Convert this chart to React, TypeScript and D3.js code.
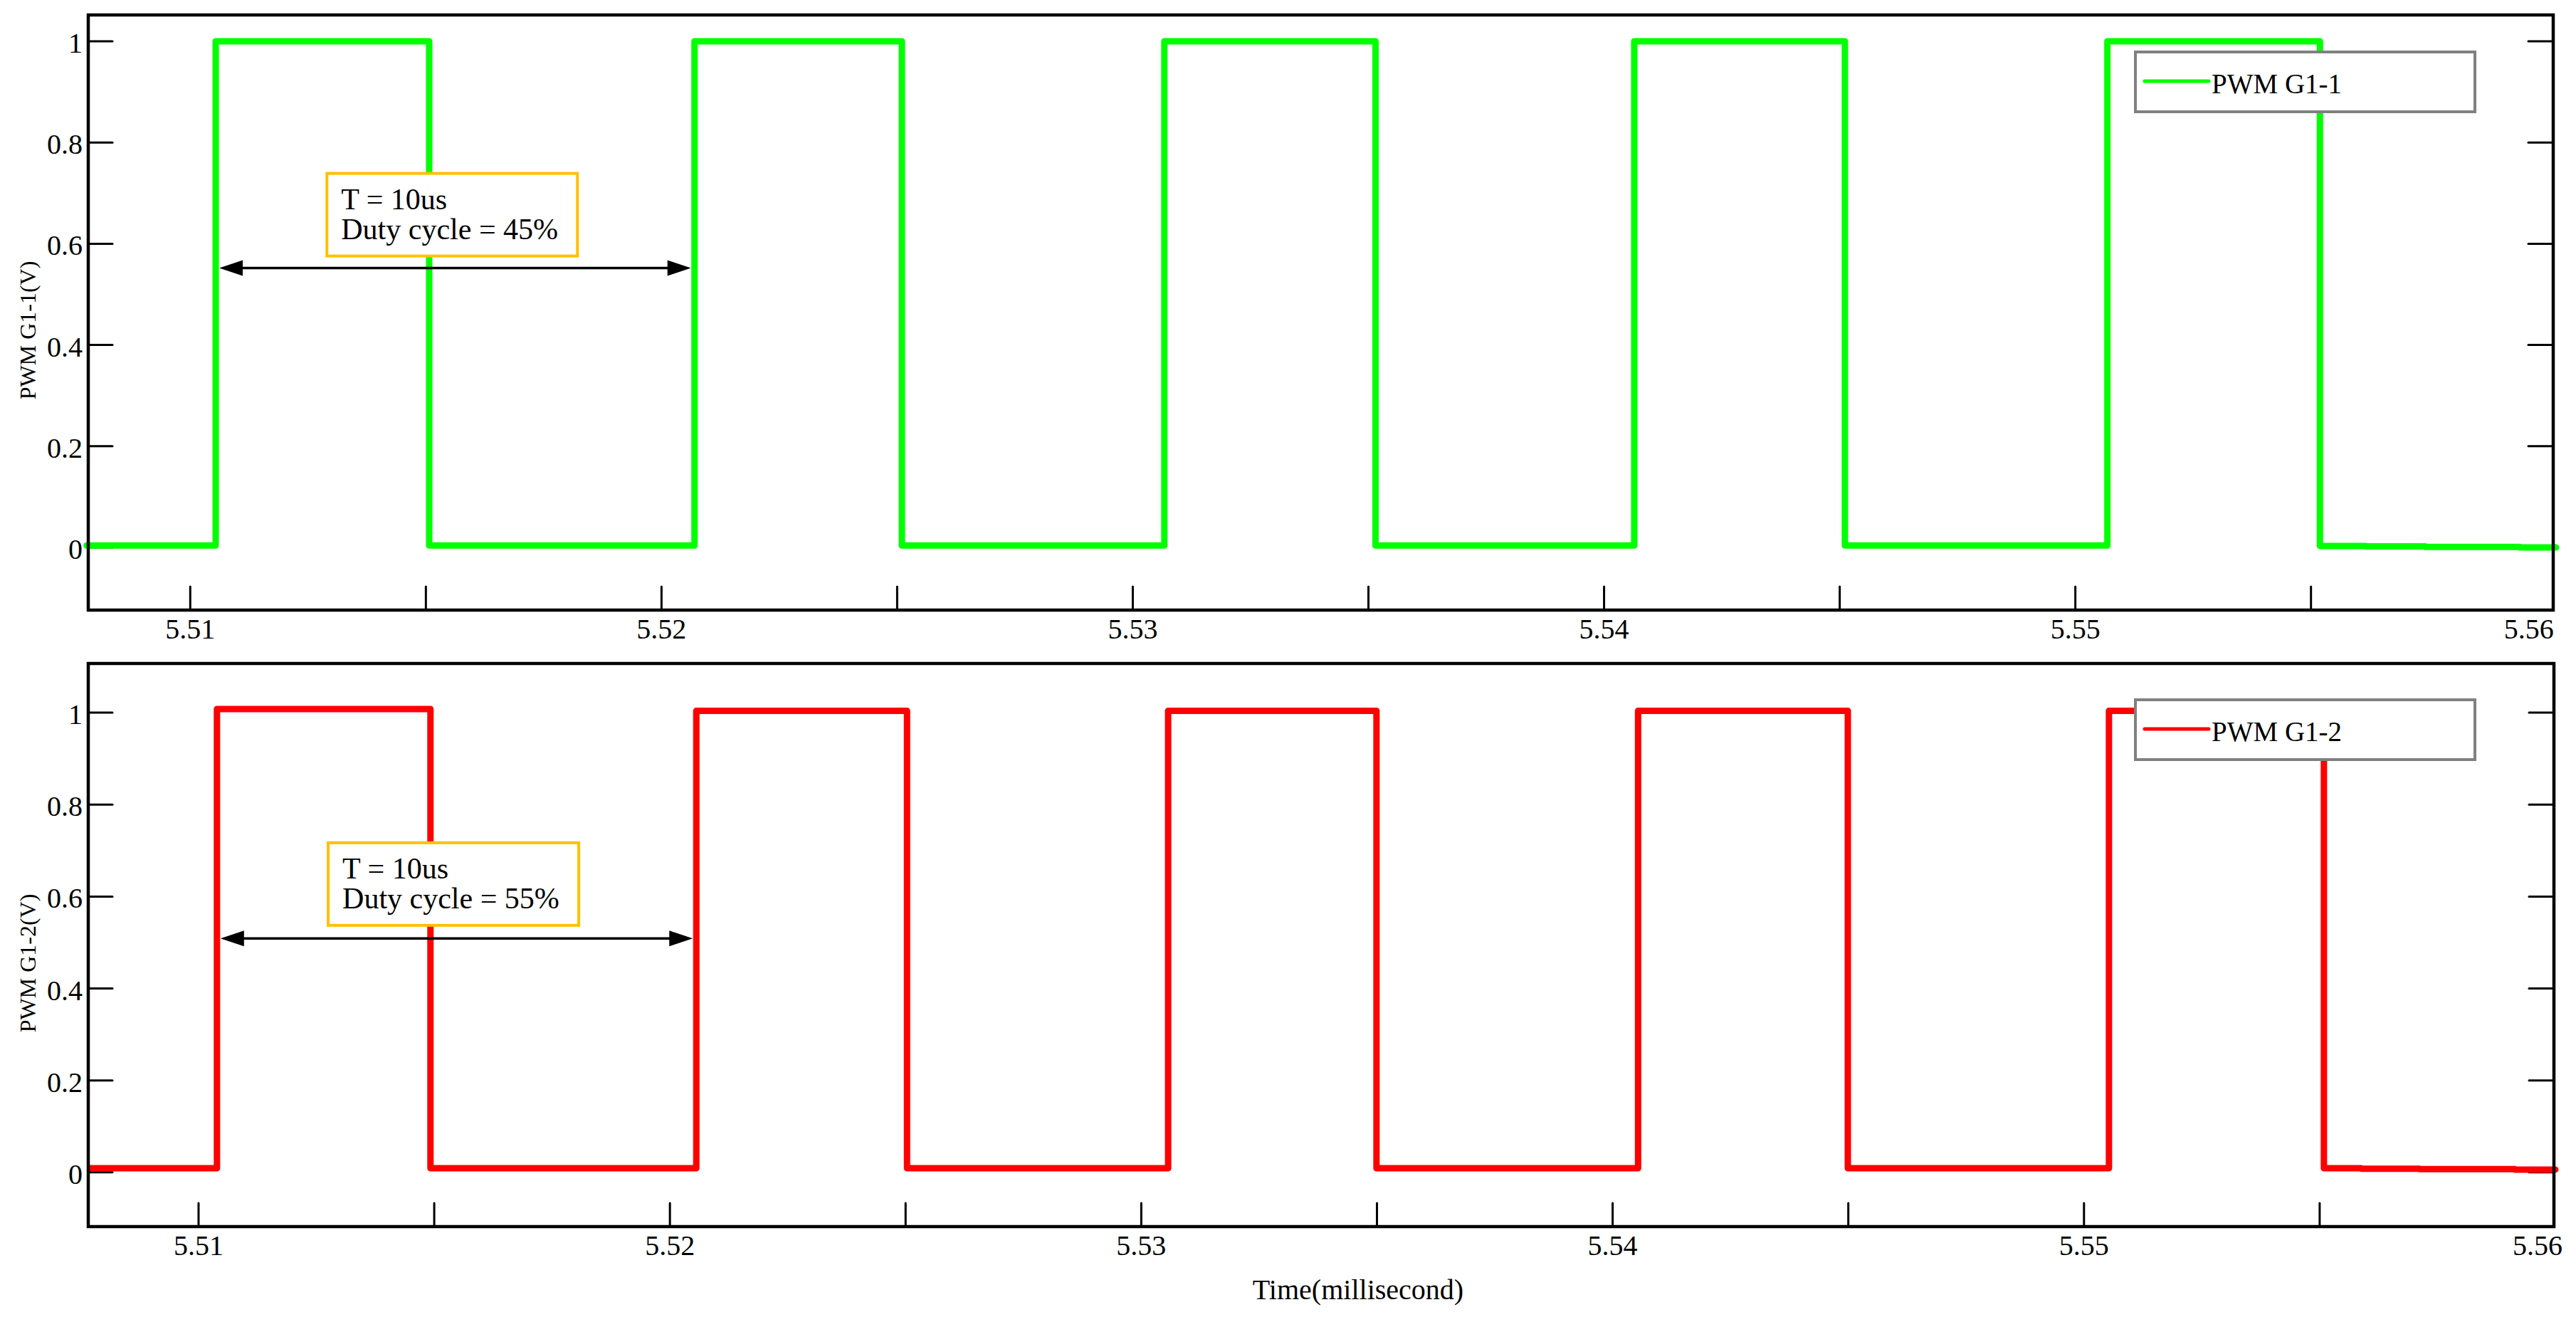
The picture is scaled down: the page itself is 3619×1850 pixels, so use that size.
import React from "react";
import * as d3 from "d3";

const FONT = "'Liberation Serif', 'Times New Roman', serif";

// ---- data ----
const g1Times = [5.5078, 5.51054, 5.51507, 5.5207, 5.5251, 5.53067, 5.53515, 5.54064, 5.54511, 5.55068, 5.55519, 5.55616, 5.55742, 5.55943, 5.5602];
const g1Values = [0.004, 1, 0.004, 1, 0.004, 1, 0.004, 1, 0.004, 1, 0.003, 0.002, 0.001, 0.0, 0.0];

const g2Times = [5.5077, 5.51039, 5.51492, 5.52056, 5.52503, 5.53057, 5.53499, 5.54054, 5.54499, 5.55053, 5.55509, 5.55588, 5.55712, 5.55914, 5.56];
const g2Values = [0.009, 1.008, 0.009, 1.004, 0.009, 1.004, 0.009, 1.004, 0.009, 1.004, 0.009, 0.008, 0.007, 0.006, 0.006];

const xTickValues = [5.51, 5.515, 5.52, 5.525, 5.53, 5.535, 5.54, 5.545, 5.55, 5.555];
const xLabelValues = [5.51, 5.52, 5.53, 5.54, 5.55, 5.56];
const xLabelTexts = ["5.51", "5.52", "5.53", "5.54", "5.55", "5.56"];
const yTickValues = [0, 0.2, 0.4, 0.6, 0.8, 1];
const yTickTexts = ["0", "0.2", "0.4", "0.6", "0.8", "1"];

const seriesNames = ["PWM G1-1", "PWM G1-2"];
const yAxisTitles = ["PWM G1-1(V)", "PWM G1-2(V)"];
const seriesColors = ["#00ff00", "#ff0000"];
const annoPeriod = ["T = 10us", "T = 10us"];
const annoDuty = ["Duty cycle = 45%", "Duty cycle = 55%"];
const annoBoxT = [5.5129, 5.51275];
const annoBoxV = [0.739, 0.717];
const arrowFrom = [5.51054, 5.51039];
const arrowTo = [5.5207, 5.52056];
const arrowLevel = [0.552, 0.509];

const xDomains: [number, number][] = [[5.507836, 5.56014], [5.50766, 5.55997]];
const yDomains: [number, number][] = [[-0.1237, 1.052], [-0.118, 1.107]];

const W = 3619;
const H = 1850;

const layouts = [
  { x0: 124, x1: 3587, y0: 21, y1: 857, legendTop: 73, titleY: 464 },
  { x0: 124, x1: 3588, y0: 932, y1: 1723, legendTop: 983, titleY: 1353 },
];

function Panel({ i }: { i: number }) {
  const L = layouts[i];
  const x = d3.scaleLinear().domain(xDomains[i]).range([L.x0, L.x1]);
  const y = d3.scaleLinear().domain(yDomains[i]).range([L.y1, L.y0]);
  const times = i === 0 ? g1Times : g2Times;
  const vals = i === 0 ? g1Values : g2Values;
  const pts: [number, number][] = times.map((t, k) => [t, vals[k]]);
  const line = d3
    .line<[number, number]>()
    .x((d) => x(d[0]))
    .y((d) => y(d[1]))
    .curve(d3.curveStepAfter);
  const color = seriesColors[i];

  // annotation
  const bx = x(annoBoxT[i]);
  const by = y(annoBoxV[i]);
  const ax0 = x(arrowFrom[i]) + 5;
  const ax1 = x(arrowTo[i]) - 5;
  const ay = y(arrowLevel[i]);
  const hl = 33;
  const hw = 11;

  return (
    <g>
      {/* y ticks left & right */}
      {yTickValues.map((v, k) => (
        <g key={"yt" + k}>
          <line x1={L.x0} x2={L.x0 + 34} y1={y(v)} y2={y(v)} stroke="#000" strokeWidth={3} strokeLinecap="round" />
          <line x1={L.x1 - 35} x2={L.x1} y1={y(v)} y2={y(v)} stroke="#000" strokeWidth={3} strokeLinecap="round" />
          <text x={L.x0 - 8} y={y(v) + 16} textAnchor="end" fontSize={40} fontFamily={FONT} fill="#000">
            {yTickTexts[k]}
          </text>
        </g>
      ))}
      {/* x ticks */}
      {xTickValues.map((v, k) => (
        <line key={"xt" + k} x1={x(v)} x2={x(v)} y1={L.y1} y2={L.y1 - 33} stroke="#000" strokeWidth={3} strokeLinecap="round" />
      ))}
      {xLabelValues.map((v, k) => {
        const last = k === xLabelValues.length - 1;
        return (
          <text
            key={"xl" + k}
            x={last ? x(v) + 10 : x(v)}
            y={L.y1 + 40}
            textAnchor={last ? "end" : "middle"}
            fontSize={40}
            fontFamily={FONT}
            fill="#000"
          >
            {xLabelTexts[k]}
          </text>
        );
      })}
      {/* signal */}
      <path d={line(pts) || ""} fill="none" stroke={color} strokeWidth={9} strokeLinejoin="round" strokeLinecap="round" />
      {/* frame */}
      <rect x={L.x0} y={L.y0} width={L.x1 - L.x0} height={L.y1 - L.y0} fill="none" stroke="#000" strokeWidth={4.5} />
      {/* y title */}
      <text
        transform={`translate(50,${L.titleY}) rotate(-90)`}
        textAnchor="middle"
        fontSize={32}
        fontFamily={FONT}
        fill="#000"
      >
        {yAxisTitles[i]}
      </text>
      {/* legend */}
      <rect x={3000} y={L.legendTop} width={477} height={84} fill="#fff" stroke="#808080" strokeWidth={4} />
      <line x1={3013} x2={3103} y1={L.legendTop + 41} y2={L.legendTop + 41} stroke={color} strokeWidth={5} strokeLinecap="round" />
      <text x={3107} y={L.legendTop + 58} fontSize={39} fontFamily={FONT} fill="#000">
        {seriesNames[i]}
      </text>
      {/* annotation box */}
      <rect x={bx} y={by} width={352} height={116} fill="#fff" stroke="#ffc000" strokeWidth={4} />
      <text x={bx + 20} y={by + 50} fontSize={42} fontFamily={FONT} fill="#000">
        {annoPeriod[i]}
      </text>
      <text x={bx + 20} y={by + 92} fontSize={42} fontFamily={FONT} fill="#000">
        {annoDuty[i]}
      </text>
      {/* arrow */}
      <line x1={ax0 + hl - 2} x2={ax1 - hl + 2} y1={ay} y2={ay} stroke="#000" strokeWidth={3.5} />
      <polygon points={`${ax0},${ay} ${ax0 + hl},${ay - hw} ${ax0 + hl},${ay + hw}`} fill="#000" />
      <polygon points={`${ax1},${ay} ${ax1 - hl},${ay - hw} ${ax1 - hl},${ay + hw}`} fill="#000" />
    </g>
  );
}

export default function App() {
  return (
    <div style={{ position: "absolute", left: 0, top: 0 }}>
      <svg width={W} height={H} viewBox={`0 0 ${W} ${H}`} style={{ display: "block", background: "#fff" }}>
        <rect x={0} y={0} width={W} height={H} fill="#fff" />
        <Panel i={0} />
        <Panel i={1} />
        <text x={1908} y={1825} textAnchor="middle" fontSize={40} fontFamily={FONT} fill="#000">
          Time(millisecond)
        </text>
      </svg>
    </div>
  );
}
